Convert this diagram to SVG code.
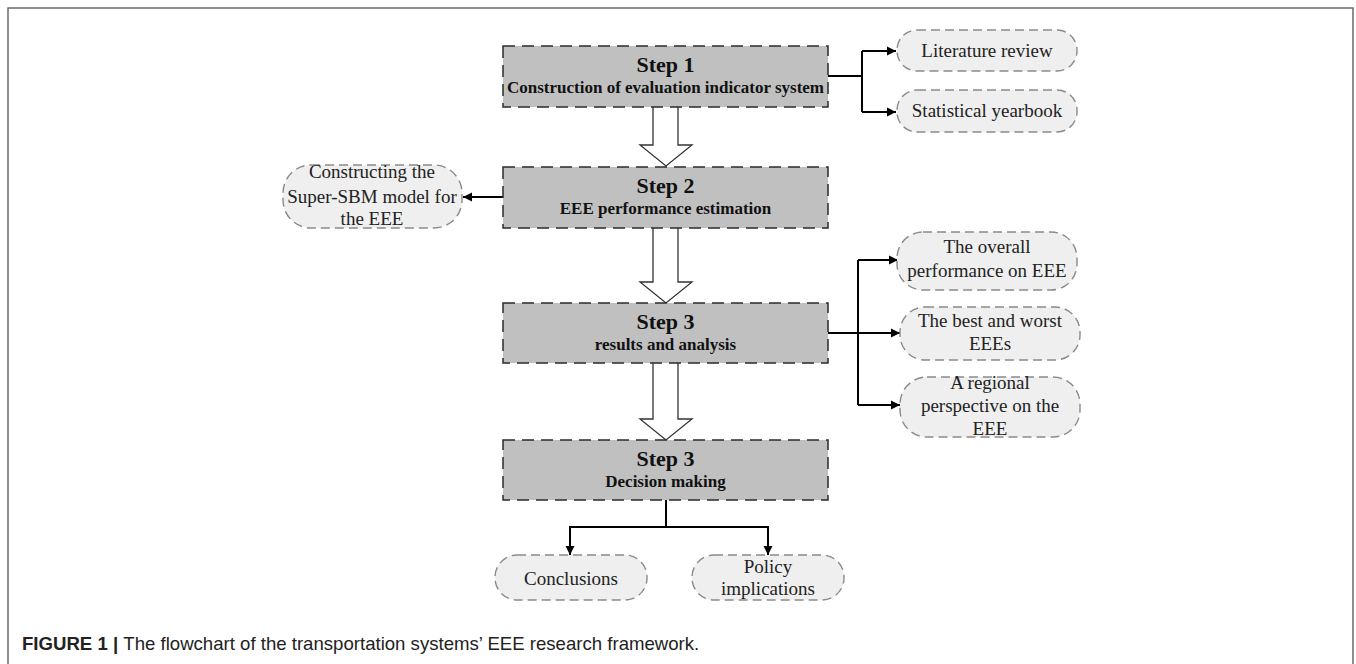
<svg xmlns="http://www.w3.org/2000/svg" width="1356" height="664" viewBox="0 0 1356 664">
<style>
.frame{fill:none;stroke:#6a6a6a;stroke-width:1.5}
.box{fill:#c0c0c0;stroke:#2a2a2a;stroke-width:1.5;stroke-dasharray:12 7}
.pill{fill:#efefef;stroke:#8a8a8a;stroke-width:1.4;stroke-dasharray:9 5}
.hollow{fill:#fff;stroke:#333;stroke-width:1.3}
.conn{fill:none;stroke:#000;stroke-width:2}
.t1{font-family:"Liberation Serif","Times New Roman",serif;font-weight:bold;font-size:22px;fill:#111;text-anchor:middle}
.t2{font-family:"Liberation Serif","Times New Roman",serif;font-weight:bold;font-size:17px;fill:#111;text-anchor:middle}
.tp{font-family:"Liberation Serif","Times New Roman",serif;font-size:19px;fill:#222;text-anchor:middle}
.cap{font-family:"Liberation Sans",Arial,sans-serif;font-size:18.6px;fill:#222}
</style>
<defs>
<marker id="ah" markerUnits="userSpaceOnUse" markerWidth="10" markerHeight="10" refX="9" refY="5" orient="auto">
<path d="M0,0.5 L9,5 L0,9.5 z" fill="#000"/>
</marker>
</defs>
<rect width="1356" height="664" fill="#fff"/>
<path class="frame" d="M8,664 V8 H1353 V664"/>

<g id="connectors">
<path class="hollow" d="M653,107 V145 H640 L666,166 L692,145 H678 V107"/>
<path class="hollow" d="M653,228 V282 H640 L666,303 L692,282 H678 V228"/>
<path class="hollow" d="M653,363 V419 H640 L666,440 L692,419 H678 V363"/>
<path class="conn" d="M828,76 H862 M862,51 V112"/>
<path class="conn" d="M862,51 H896" marker-end="url(#ah)"/>
<path class="conn" d="M862,112 H896" marker-end="url(#ah)"/>
<path class="conn" d="M503,197 H463" marker-end="url(#ah)"/>
<path class="conn" d="M828,333 H858 M858,260 V405"/>
<path class="conn" d="M858,260 H898" marker-end="url(#ah)"/>
<path class="conn" d="M858,333 H900" marker-end="url(#ah)"/>
<path class="conn" d="M858,405 H900" marker-end="url(#ah)"/>
<path class="conn" d="M666,500 V527 M569,527 H769"/>
<path class="conn" d="M570,527 V555" marker-end="url(#ah)"/>
<path class="conn" d="M768,527 V555" marker-end="url(#ah)"/>
</g>

<g id="step1">
<rect class="box" x="503" y="46" width="325" height="61"/>
<text class="t1" x="665.5" y="72">Step 1</text>
<text class="t2" x="665.5" y="93">Construction of evaluation indicator system</text>
</g>
<g id="step2">
<rect class="box" x="503" y="167" width="325" height="61"/>
<text class="t1" x="665.5" y="193">Step 2</text>
<text class="t2" x="665.5" y="214">EEE performance estimation</text>
</g>
<g id="step3">
<rect class="box" x="503" y="303" width="325" height="60"/>
<text class="t1" x="665.5" y="329">Step 3</text>
<text class="t2" x="665.5" y="350">results and analysis</text>
</g>
<g id="step4">
<rect class="box" x="503" y="440" width="325" height="60"/>
<text class="t1" x="665.5" y="466">Step 3</text>
<text class="t2" x="665.5" y="487">Decision making</text>
</g>

<g id="literature">
<rect class="pill" x="897" y="30" width="180" height="41" rx="20"/>
<text class="tp" x="987" y="57">Literature review</text>
</g>
<g id="yearbook">
<rect class="pill" x="897" y="90" width="180" height="42" rx="20"/>
<text class="tp" x="987" y="117">Statistical yearbook</text>
</g>
<g id="superSBM">
<rect class="pill" x="283" y="165" width="179" height="63" rx="28"/>
<text class="tp" x="372" y="178">Constructing the</text>
<text class="tp" x="372" y="203">Super-SBM model for</text>
<text class="tp" x="372" y="225">the EEE</text>
</g>
<g id="overall">
<rect class="pill" x="897" y="232" width="180" height="58" rx="26"/>
<text class="tp" x="987" y="253">The overall</text>
<text class="tp" x="987" y="277">performance on EEE</text>
</g>
<g id="bestworst">
<rect class="pill" x="900" y="307" width="180" height="53" rx="25"/>
<text class="tp" x="990" y="327">The best and worst</text>
<text class="tp" x="990" y="350">EEEs</text>
</g>
<g id="regional">
<rect class="pill" x="900" y="377" width="180" height="60" rx="27"/>
<text class="tp" x="990" y="389">A regional</text>
<text class="tp" x="990" y="412">perspective on the</text>
<text class="tp" x="990" y="435">EEE</text>
</g>
<g id="conclusions">
<rect class="pill" x="495" y="555" width="152" height="45" rx="22"/>
<text class="tp" x="571" y="585">Conclusions</text>
</g>
<g id="policy">
<rect class="pill" x="692" y="555" width="152" height="45" rx="22"/>
<text class="tp" x="768" y="573">Policy</text>
<text class="tp" x="768" y="595">implications</text>
</g>

<text class="cap" x="22" y="650"><tspan font-weight="bold">FIGURE 1 | </tspan>The flowchart of the transportation systems’ EEE research framework.</text>
</svg>
